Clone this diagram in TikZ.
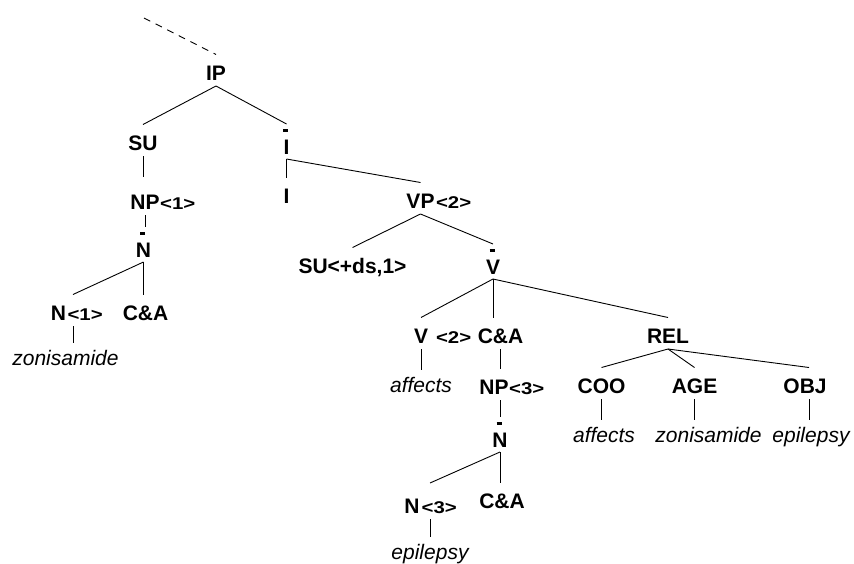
\documentclass[tikz,border=0pt]{standalone}
\usepackage{fontspec}
\usepackage{graphicx}
\setmainfont{Liberation Sans}
% category with a short bar above it (X-bar notation)
\newcommand\xbar[1]{\ooalign{\hidewidth\kern-2pt\raisebox{22.5pt}{\rule{5pt}{2.2pt}}\hidewidth\cr#1\cr}}
% small, widened index such as <1>
\newcommand\ix[1]{\scalebox{1.2}[1]{#1}}
\tikzset{
  lbl/.style={font=\fontsize{21}{25}\selectfont\bfseries, inner sep=0pt, outer sep=0pt,
              text height=25.5pt, text depth=6pt, anchor=base},
  barlbl/.style={lbl, text height=30pt, text depth=5pt},
  idx/.style={font=\fontsize{17}{20}\selectfont\bfseries, inner sep=0pt, outer sep=0pt, anchor=base west},
  word/.style={font=\fontsize{21}{25}\selectfont\itshape, inner sep=0pt, outer sep=0pt,
               text height=22pt, text depth=5pt, anchor=base},
  edge/.style={draw=black, line width=0.9pt},
}
\begin{document}
\begin{tikzpicture}[x=1pt, y=-1pt]
\useasboundingbox (0,0) rectangle (854,563);

% ---- nodes ----
\node[lbl] (ip) at (216,80) {IP};
\node[lbl] (su) at (143,150) {SU};
\node[barlbl] (ib) at (286.5,154) {\xbar{I}};
\node[lbl, text height=32pt] (np1) at (145,209) {NP};
\node[idx] (np1i) at ([xshift=0.5pt]np1.base east) {\ix{<1>}};
\node[lbl] (i) at (286.5,203) {I};
\node[lbl] (vp) at (420.5,208) {VP};
\node[idx] (vpi) at ([xshift=1.5pt]vp.base east) {\ix{<2>}};
\node[barlbl] (nb1) at (143.5,257) {\xbar{N}};
\node[lbl] (su2) at (352.5,273) {SU<+ds,1>};
\node[barlbl] (vb) at (493,274) {\xbar{V}};
\node[lbl] (n1) at (58.5,320) {N};
\node[idx] (n1i) at ([xshift=1.5pt]n1.base east) {\ix{<1>}};
\node[lbl] (ca1) at (145.5,320) {C\&A};
\node[lbl] (v) at (421,343) {V};
\node[idx] (vi) at ([xshift=8pt]v.base east) {\ix{<2>}};
\node[lbl] (ca2) at (500.5,343) {C\&A};
\node[lbl] (rel) at (668,343) {REL};
\node[word] (zon1) at (65.5,365) {zonisamide};
\node[word] (aff1) at (421,392) {affects};
\node[lbl] (np3) at (494,394) {NP};
\node[idx] (np3i) at ([xshift=0.5pt]np3.base east) {\ix{<3>}};
\node[lbl] (coo) at (601.5,393) {COO};
\node[lbl] (age) at (694.5,393) {AGE};
\node[lbl] (obj) at (805,393) {OBJ};
\node[word] (aff2) at (604,442) {affects};
\node[word] (zon2) at (708.5,442) {zonisamide};
\node[word] (epi2) at (811,442) {epilepsy};
\node[barlbl] (nb2) at (500,447) {\xbar{N}};
\node[lbl, text height=30pt] (n3) at (412,513) {N};
\node[idx] (n3i) at ([xshift=2pt]n3.base east) {\ix{<3>}};
\node[lbl] (ca3) at (502,508) {C\&A};
\node[word] (epi3) at (430,559) {epilepsy};

% ---- connectors ----
\coordinate (up) at (144,18);
\draw[edge, dash pattern=on 7pt off 6pt] (up) -- (ip.north);

\draw[edge] (ip.south) -- (su.north);
\draw[edge] (ip.south) -- (ib.north);
\draw[edge] (su.south) -- (su.south |- np1.north);
\draw[edge] (ib.south) -- (i.north);
\draw[edge] (ib.south) -- (vp.north);
\draw[edge] (np1.south) -- (np1.south |- nb1.north);
\draw[edge] (nb1.south) -- ([xshift=14.5pt]n1.north);
\draw[edge] (nb1.south) -- (nb1.south |- ca1.north);
\draw[edge] ([xshift=14.5pt]n1.south) -- ([xshift=14.5pt]n1.south |- zon1.north);
\draw[edge] (vp.south) -- (su2.north);
\draw[edge] (vp.south) -- (vb.north);
\draw[edge] (vb.south) -- (v.north);
\draw[edge] (vb.south) -- (vb.south |- ca2.north);
\draw[edge] (vb.south) -- (rel.north);
\draw[edge] (v.south) -- (aff1.north);
\draw[edge] (ca2.south) -- (ca2.south |- np3.north);
\draw[edge] ([xshift=6pt]np3.south) -- (nb2.north);
\draw[edge] (rel.south) -- (coo.north);
\draw[edge] (rel.south) -- (age.north);
\draw[edge] (rel.south) -- ([xshift=4pt]obj.north);
\draw[edge] (coo.south) -- (coo.south |- aff2.north);
\draw[edge] (age.south) -- (age.south |- zon2.north);
\draw[edge] ([xshift=4pt]obj.south) -- ([xshift=4pt]obj.south |- epi2.north);
\draw[edge] (nb2.south) -- ([xshift=18pt]n3.north);
\draw[edge] (nb2.south) -- (nb2.south |- ca3.north);
\draw[edge] ([xshift=18pt]n3.south) -- ([xshift=18pt]n3.south |- epi3.north);
\end{tikzpicture}
\end{document}
